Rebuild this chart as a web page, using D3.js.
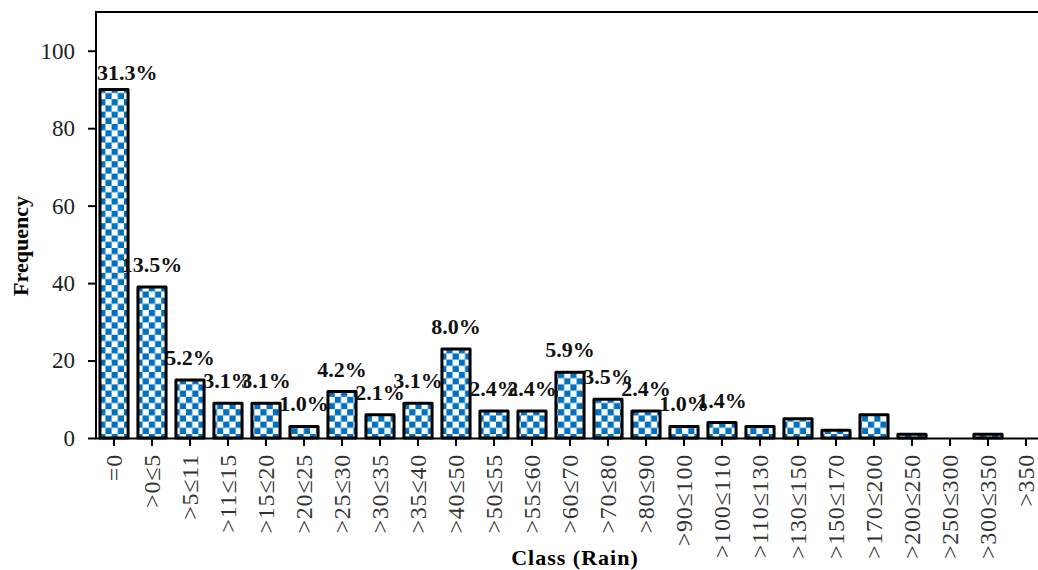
<!DOCTYPE html>
<html>
<head>
<meta charset="utf-8">
<script src="https://cdn.jsdelivr.net/npm/d3@7"></script>
<style>
  html, body { margin: 0; padding: 0; background: #fff; }
  svg { display: block; }
</style>
</head>
<body>
<svg id="chart" width="1038" height="570"></svg>
<script>
const categories = ["=0", ">0≤5", ">5≤11", ">11≤15", ">15≤20", ">20≤25", ">25≤30", ">30≤35", ">35≤40",
  ">40≤50", ">50≤55", ">55≤60", ">60≤70", ">70≤80", ">80≤90", ">90≤100", ">100≤110", ">110≤130",
  ">130≤150", ">150≤170", ">170≤200", ">200≤250", ">250≤300", ">300≤350", ">350"];
const frequency = [90, 39, 15, 9, 9, 3, 12, 6, 9, 23, 7, 7, 17, 10, 7, 3, 4, 3, 5, 2, 6, 1, 0, 1, 0];
const percentLabels = ["31.3%", "13.5%", "5.2%", "3.1%", "3.1%", "1.0%", "4.2%", "2.1%", "3.1%", "8.0%",
  "2.4%", "2.4%", "5.9%", "3.5%", "2.4%", "1.0%", "1.4%", null, null, null, null, null, null, null, null];
const yTicks = [0, 20, 40, 60, 80, 100];

const svg = d3.select("#chart");
const mLeft = 96, mTop = 12, mBottom = 438;
const serif = "'Liberation Serif', 'Times New Roman', serif";

const x = d3.scaleBand().domain(categories).range([mLeft - 1, mLeft - 1 + 950]).paddingInner(0.26).paddingOuter(0.13);
const y = d3.scaleLinear().domain([0, 110]).range([mBottom, mTop]);

// checkerboard pattern
const defs = svg.append("defs");
const pat = defs.append("pattern").attr("id", "checker").attr("patternUnits", "userSpaceOnUse")
  .attr("width", 12.4).attr("height", 12.4);
pat.append("rect").attr("width", 12.4).attr("height", 12.4).attr("fill", "#fff");
pat.append("rect").attr("x", 0).attr("y", 0).attr("width", 6.2).attr("height", 6.2).attr("fill", "#0070C0");
pat.append("rect").attr("x", 6.2).attr("y", 6.2).attr("width", 6.2).attr("height", 6.2).attr("fill", "#0070C0");

// bars
svg.append("g").selectAll("rect").data(categories).join("rect")
  .attr("x", d => x(d))
  .attr("y", (d, i) => y(frequency[i]))
  .attr("width", x.bandwidth())
  .attr("height", (d, i) => y(0) - y(frequency[i]))
  .attr("fill", "url(#checker)")
  .attr("stroke", "#000")
  .attr("stroke-width", 3)
  .attr("stroke-linejoin", "round");

// y axis
const yAxis = svg.append("g").attr("transform", `translate(${mLeft},0)`)
  .call(d3.axisLeft(y).tickValues(yTicks).tickSize(8).tickPadding(13));
yAxis.select(".domain").remove();
yAxis.selectAll(".tick line").attr("stroke", "#000").attr("stroke-width", 2);
yAxis.selectAll("text").attr("font-family", serif).attr("font-size", 23).attr("fill", "#222");
svg.append("line").attr("x1", mLeft).attr("x2", mLeft).attr("y1", mTop).attr("y2", mBottom + 1)
  .attr("stroke", "#000").attr("stroke-width", 2);
svg.append("line").attr("x1", mLeft - 1).attr("x2", 1038).attr("y1", mTop).attr("y2", mTop)
  .attr("stroke", "#000").attr("stroke-width", 2);

// x axis
const xAxis = svg.append("g").attr("transform", `translate(0,${mBottom})`)
  .call(d3.axisBottom(x).tickSize(8).tickSizeOuter(0));
xAxis.select(".domain").attr("stroke", "#000").attr("stroke-width", 2);
xAxis.selectAll(".tick line").attr("stroke", "#000").attr("stroke-width", 2);
xAxis.selectAll("text")
  .attr("font-family", serif).attr("font-size", 24).attr("fill", "#333")
  .attr("letter-spacing", 0.8)
  .attr("text-anchor", "end")
  .attr("transform", "rotate(-90)")
  .attr("x", -16).attr("y", 0).attr("dy", "0.35em");

// bar labels
const lab = svg.append("g").selectAll("text").data(categories.map((c, i) => ({c, i})).filter(d => percentLabels[d.i]))
  .join("text")
  .attr("font-family", serif).attr("font-size", 22).attr("font-weight", "bold").attr("fill", "#111")
  .attr("text-anchor", "middle")
  .text(d => percentLabels[d.i])
  .attr("y", d => y(frequency[d.i]) - (d.i === 0 ? 9 : 15));
lab.each(function(d) {
  const w = this.getComputedTextLength();
  const cx = x(d.c) + x.bandwidth() / 2;
  d3.select(this).attr("x", Math.max(cx, mLeft + 1 + w / 2));
});

// axis titles
svg.append("text").attr("x", 575).attr("y", 565).attr("text-anchor", "middle")
  .attr("font-family", serif).attr("font-size", 22).attr("font-weight", "bold")
  .attr("letter-spacing", 1).text("Class (Rain)");
svg.append("text").attr("transform", `translate(28,246) rotate(-90)`).attr("text-anchor", "middle")
  .attr("font-family", serif).attr("font-size", 22).attr("font-weight", "bold").text("Frequency");
</script>
</body>
</html>
